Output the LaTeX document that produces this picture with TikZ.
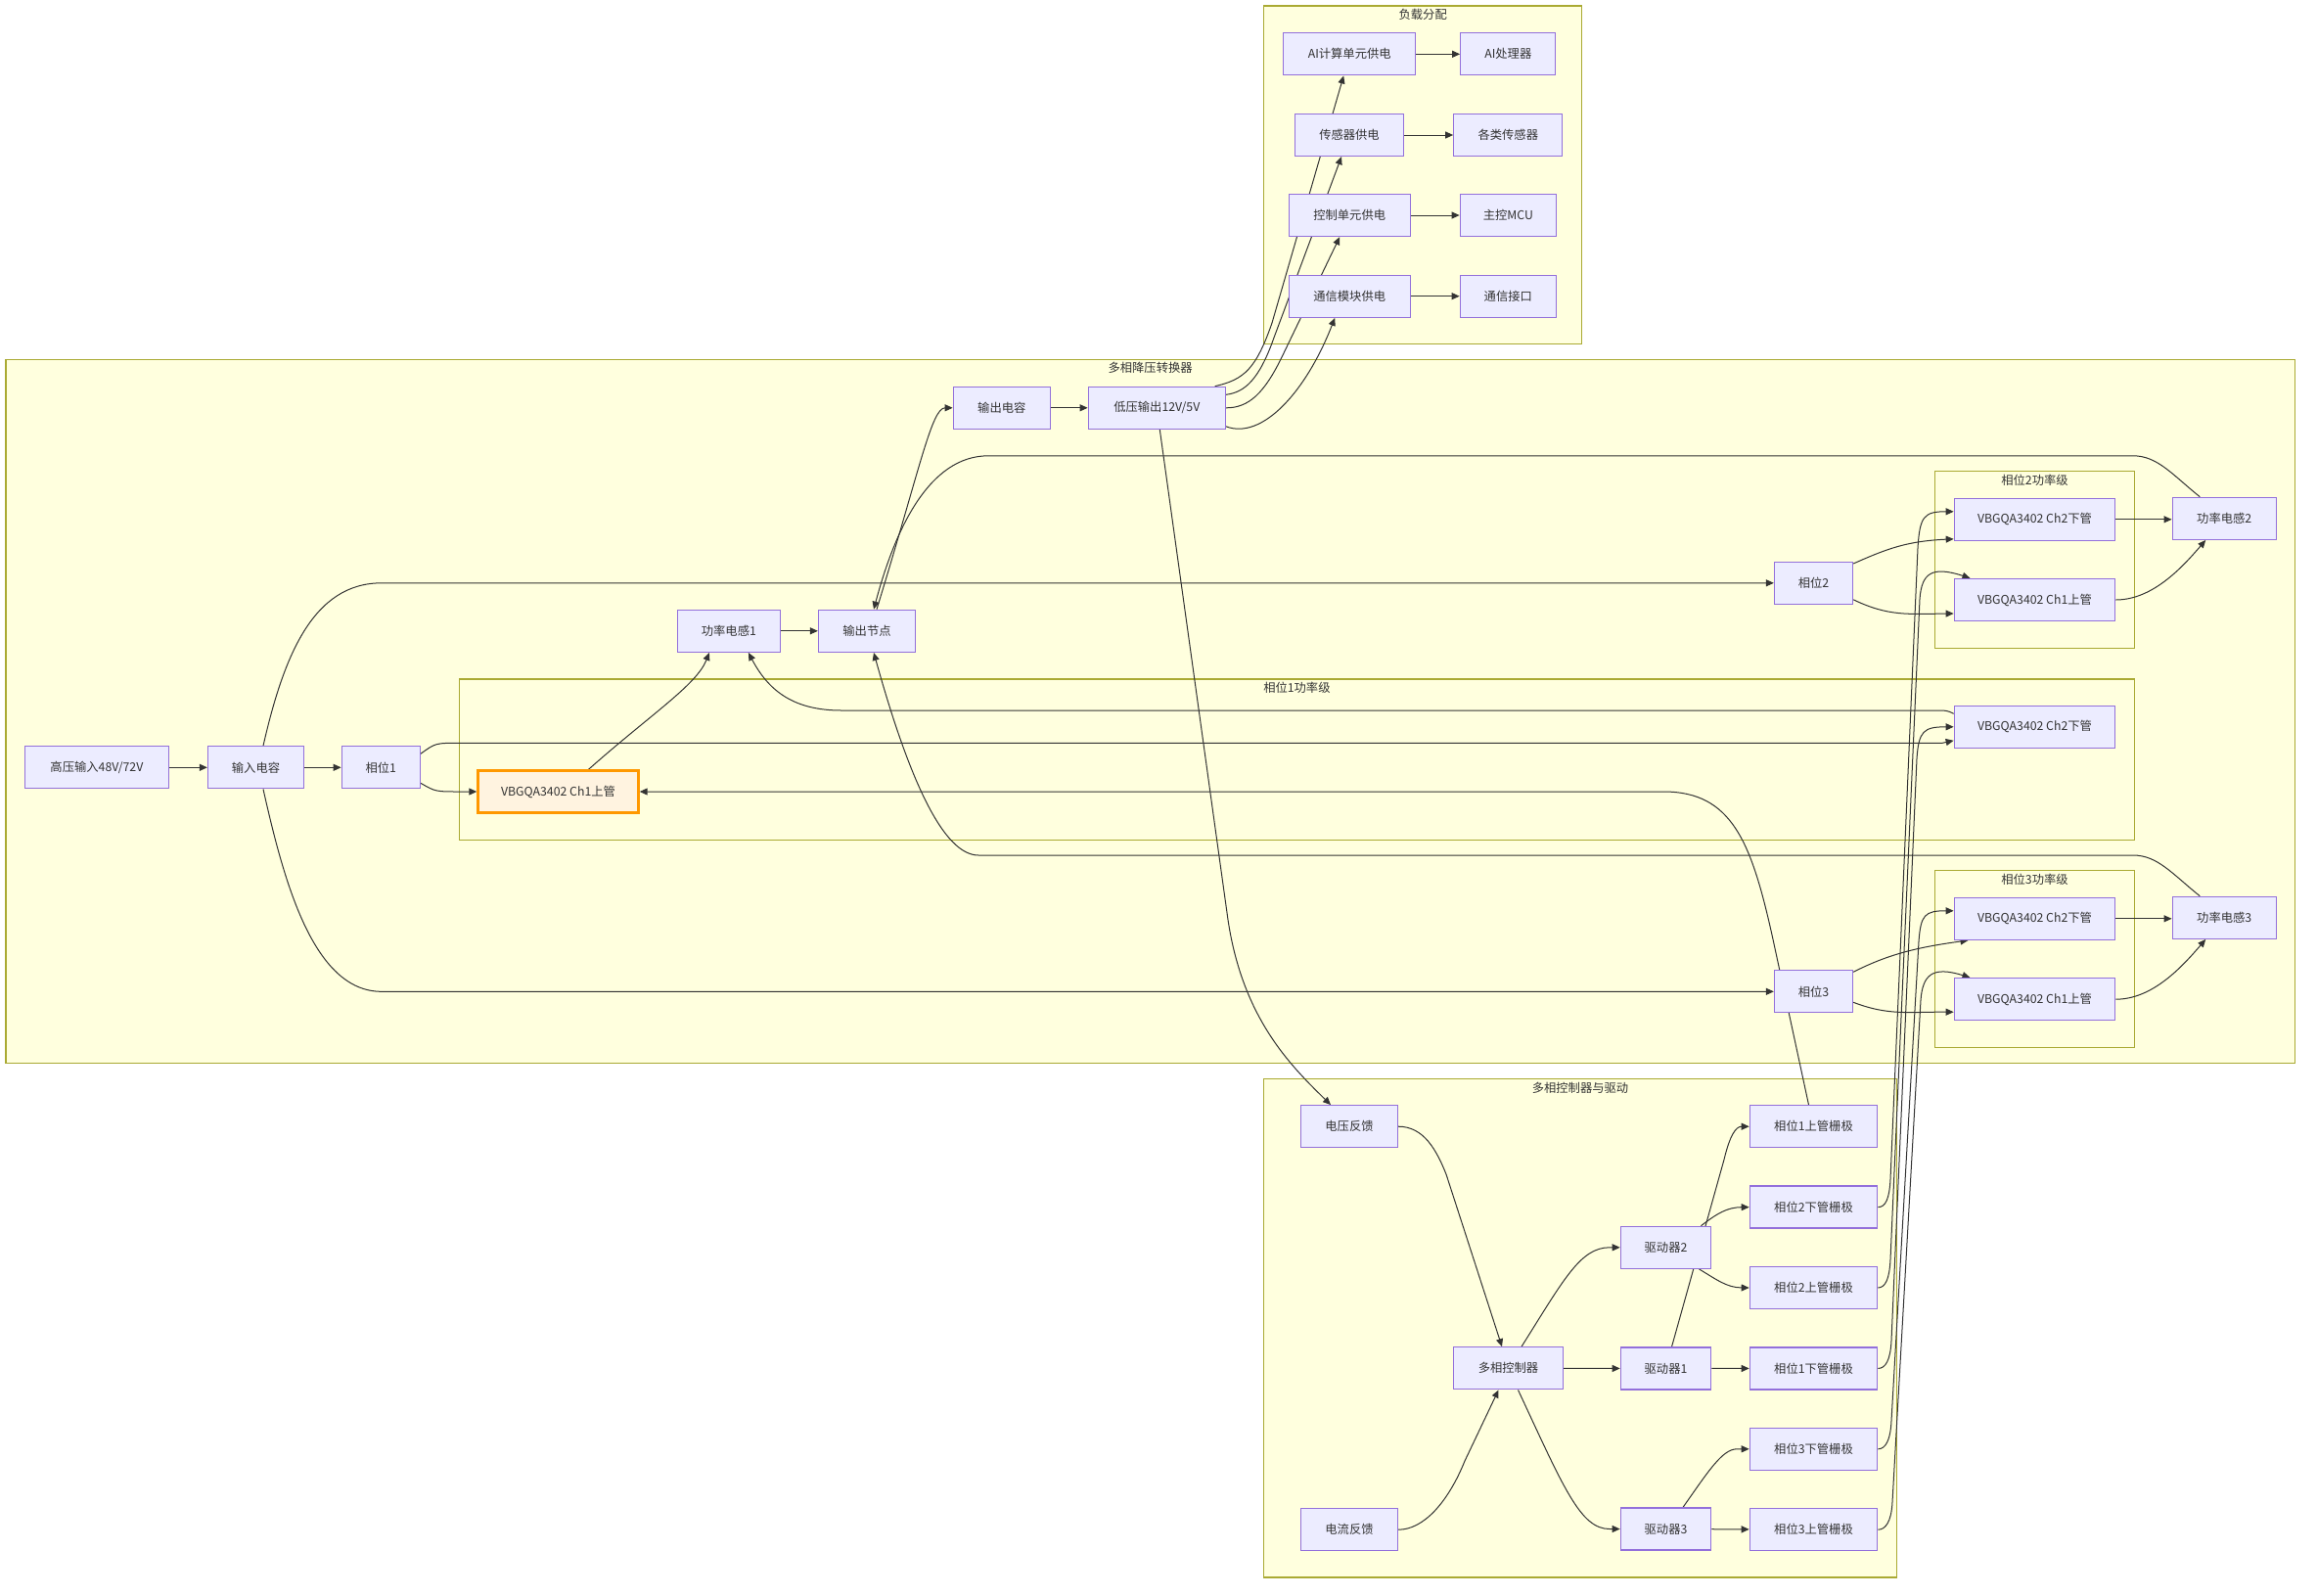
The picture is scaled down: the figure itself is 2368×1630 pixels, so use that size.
\documentclass[tikz,border=0pt]{standalone}
\usepackage{fontspec}
\setmainfont{Noto Sans CJK SC}
\usetikzlibrary{arrows.meta,positioning}
\definecolor{boxfill}{HTML}{ECECFF}
\definecolor{boxline}{HTML}{9370DB}
\definecolor{grpfill}{HTML}{FFFFDE}
\definecolor{grpline}{HTML}{AAAA33}
\definecolor{hotfill}{HTML}{FFF3E0}
\definecolor{hotline}{HTML}{FF9800}
\definecolor{ink}{HTML}{333333}
\newcommand{\boxfont}{\fontsize{12.3pt}{14pt}\selectfont}
\pgfdeclarelayer{back}
\pgfdeclarelayer{wires}
\pgfsetlayers{back,wires,main}

\begin{document}
\begin{tikzpicture}[x=1pt,y=-1pt,node distance=82.4pt,on grid,
  >={Triangle[length=8pt,width=7pt]},
  box/.style={draw=boxline,fill=boxfill,line width=1.3pt,minimum height=43pt,inner sep=0pt,text=ink,font=\boxfont},
  hot/.style={box,draw=hotline,fill=hotfill,line width=2.4pt},
  mos/.style={box,minimum width=164.4pt},
  gatebox/.style={box,minimum width=130.3pt},
  group/.style={draw=grpline,fill=grpfill,line width=1.3pt},
  grouptitle/.style={text=ink,font=\boxfont,inner sep=0pt},
  wire/.style={draw=ink,line width=1pt,->}]
\useasboundingbox (0,0) rectangle (2368,1630);

% load distribution
\node[box,minimum width=135pt] (aipwr) at (1379.2,55.3) {AI计算单元供电};
\node[box,minimum width=97pt] (aiproc) [right=162.1pt of aipwr] {AI处理器};
\node[box,minimum width=111pt] (senpwr) at (1379,138) {传感器供电};
\node[box,minimum width=111pt] (sensors) [right=162.3pt of senpwr] {各类传感器};
\node[box,minimum width=124pt] (ctlpwr) at (1379.2,220) {控制单元供电};
\node[box,minimum width=98pt] (mcu) [right=162.1pt of ctlpwr] {主控MCU};
\node[box,minimum width=124pt] (compwr) at (1379.2,302.7) {通信模块供电};
\node[box,minimum width=98pt] (comif) [right=162.1pt of compwr] {通信接口};

% buck converter
\node[box,minimum width=147pt] (hv) at (98.9,784.3) {高压输入48V/72V};
\node[box,minimum width=98pt] (cin) at (261.5,784.3) {输入电容};
\node[box,minimum width=80pt] (ph1) at (389.3,784.3) {相位1};
\node[hot,minimum width=164pt] (p1hi) at (570.5,809) {VBGQA3402 Ch1上管};
\node[box,minimum width=105pt] (ind1) at (744.9,644.8) {功率电感1};
\node[box,minimum width=99pt] (onode) at (886,644.8) {输出节点};
\node[box,minimum width=99pt] (cout) at (1023.8,416.8) {输出电容};
\node[box,minimum width=140pt] (lvout) at (1182.3,416.8) {低压输出12V/5V};
\node[box,minimum width=80pt] (ph2) at (1853.5,595.8) {相位2};
\node[box,minimum width=80pt] (ph3) at (1853.5,1013.3) {相位3};
\node[mos] (p2lo) at (2079.5,530.8) {VBGQA3402 Ch2下管};
\node[mos] (p2hi) at (2079.5,613) {VBGQA3402 Ch1上管};
\node[mos] (p1lo) at (2079.5,742.8) {VBGQA3402 Ch2下管};
\node[mos] (p3lo) at (2079.5,938.8) {VBGQA3402 Ch2下管};
\node[mos] (p3hi) at (2079.5,1021.2) {VBGQA3402 Ch1上管};
\node[box,minimum width=106pt] (ind2) at (2273.2,529.8) {功率电感2};
\node[box,minimum width=106pt] (ind3) at (2273.2,937.8) {功率电感3};

% controller and drivers
\node[box,minimum width=99pt] (vfb) at (1379,1151.2) {电压反馈};
\node[box,minimum width=99pt] (ifb) at (1379,1563.2) {电流反馈};
\node[box,minimum width=111.7pt] (ctrl) at (1541.5,1398.3) {多相控制器};
\node[box,minimum width=92.3pt] (drv2) at (1702.5,1274.8) {驱动器2};
\node[box,minimum width=92.3pt] (drv1) at (1702.5,1398.5) {驱动器1};
\node[box,minimum width=92.3pt] (drv3) at (1702.5,1562.5) {驱动器3};
\node[gatebox] (g1hi) at (1853.5,1151.2) {相位1上管栅极};
\node[gatebox] (g2lo) [below=of g1hi] {相位2下管栅极};
\node[gatebox] (g2hi) [below=of g2lo] {相位2上管栅极};
\node[gatebox] (g1lo) [below=of g2hi] {相位1下管栅极};
\node[gatebox] (g3lo) [below=of g1lo] {相位3下管栅极};
\node[gatebox] (g3hi) [below=of g3lo] {相位3上管栅极};

\begin{pgfonlayer}{wires}
\draw[wire] (hv) -- (cin);
\draw[wire] (cin) -- (ph1);
\draw[wire] ([xshift=7.5pt]cin.north) .. controls (290,670) and (320,595.8) .. (390,595.8) -- (ph2.west);
\draw[wire] ([xshift=7.5pt]cin.south) .. controls (290,900) and (320,1013.3) .. (390,1013.3) -- (ph3.west);
\draw[wire] ([yshift=-16pt]ph1.east) .. controls (445,809) .. (470,809) -- (p1hi.west);
\draw[wire] ([yshift=14pt]ph1.east) .. controls (445,759.3) .. (470,759.3) -- (1985,759.3) -- ([yshift=-14pt]p1lo.west);
\draw[wire] ([yshift=19.8pt]ph2.east) .. controls (1930,560) and (1950,553) .. ([yshift=-20pt]p2lo.west);
\draw[wire] ([yshift=-17pt]ph2.east) .. controls (1930,630) and (1950,627.5) .. ([yshift=-14pt]p2hi.west);
\draw[wire] ([yshift=20pt]ph3.east) .. controls (1930,975) and (1960,968) .. ([xshift=-68pt]p3lo.south);
\draw[wire] ([yshift=-11pt]ph3.east) .. controls (1930,1038) and (1950,1034) .. ([yshift=-13pt]p3hi.west);
\draw[wire] ([xshift=31pt]p1hi.north) .. controls (665,730) and (712,700) .. ([xshift=-20pt]ind1.south);
\draw[wire] ([yshift=13.5pt]p1lo.west) .. controls (1990,726) .. (1975,726) -- (860,726) .. controls (810,726) and (785,705) .. ([xshift=20pt]ind1.south);
\draw[wire] (p2lo.east) -- (p2lo.east -| ind2.west);
\draw[wire] (p2hi.east) .. controls (2200,613) and (2230,580) .. ([xshift=-19pt]ind2.south);
\draw[wire] (p3lo.east) -- (p3lo.east -| ind3.west);
\draw[wire] (p3hi.east) .. controls (2200,1021.2) and (2230,988) .. ([xshift=-19pt]ind3.south);
\draw[wire] (ind1) -- (onode);
\draw[wire] ([xshift=-25pt]ind2.north) .. controls (2220,485) and (2205,465.8) .. (2180,465.8) -- (1010,465.8) .. controls (950,465.8) and (915,540) .. ([xshift=7pt]onode.north);
\draw[wire] ([xshift=-25pt]ind3.north) .. controls (2220,893) and (2205,874) .. (2180,874) -- (1000,874) .. controls (965,874) and (930,800) .. ([xshift=7pt]onode.south);
\draw[wire] ([xshift=10pt]onode.north) .. controls (940,480) and (952,416.8) .. (cout.west);
\draw[wire] (cout) -- (lvout);
% to the loads
\draw[wire] ([xshift=59.4pt]lvout.north) .. controls (1272,388) and (1284,376) .. (1300,330) -- ([xshift=-6pt]aipwr.south);
\draw[wire] ([yshift=13.5pt]lvout.east) .. controls (1272,401) and (1287,388) .. (1302,345) -- ([xshift=-8pt]senpwr.south);
\draw[wire] (lvout.east) .. controls (1276,417) and (1292,402) .. (1310,365) -- ([xshift=-10pt]ctlpwr.south);
\draw[wire] ([yshift=-19pt]lvout.east) .. controls (1290,450) and (1335,400) .. ([xshift=-15pt]compwr.south);
\draw[wire] (aipwr) -- (aiproc);
\draw[wire] (senpwr) -- (sensors);
\draw[wire] (ctlpwr) -- (mcu);
\draw[wire] (compwr) -- (comif);
% feedback and control
\draw[wire] ([xshift=3pt]lvout.south) -- (1255,940) .. controls (1270,1040) and (1318,1088) .. ([xshift=-19pt]vfb.north);
\draw[wire] (vfb.east) .. controls (1455,1151.2) and (1468,1175) .. (1478,1200) -- ([xshift=-6.5pt]ctrl.north);
\draw[wire] (ifb.east) .. controls (1455,1563.2) and (1480,1535) .. (1497,1493) -- ([xshift=-10pt]ctrl.south);
\draw[wire] (ctrl) -- (drv1);
\draw[wire] ([xshift=13.5pt]ctrl.north) .. controls (1598,1308) and (1615,1274.8) .. (1645,1274.8) -- (drv2.west);
\draw[wire] ([xshift=10pt]ctrl.south) .. controls (1598,1520) and (1615,1562.5) .. (1645,1562.5) -- (drv3.west);
\draw[wire] (drv1) -- (g1lo);
\draw[wire] ([xshift=6pt]drv1.north) -- (1762,1185) .. controls (1768,1160) and (1774,1151.2) .. (g1hi.west);
\draw[wire] ([xshift=36pt]drv2.north) .. controls (1755,1240) and (1765,1233.8) .. (g2lo.west);
\draw[wire] ([xshift=34pt]drv2.south) .. controls (1755,1308) and (1765,1315.8) .. (g2hi.west);
\draw[wire] ([xshift=17.5pt]drv3.north) .. controls (1745,1505) and (1760,1480.8) .. (1775,1480.8) -- (g3lo.west);
\draw[wire] (drv3) -- (g3hi);
% gate signals
\draw[wire] ([xshift=-5pt]g1hi.north) -- (1812,960) .. controls (1790,860) and (1770,809) .. (1700,809) -- (p1hi.east);
\draw[wire] (g2lo.east) .. controls (1927,1233.8) and (1931,1225) .. (1932,1205) -- (1960,560) .. controls (1962,528) and (1966,522.7) .. ([yshift=8pt]p2lo.west);
\draw[wire] (g2hi.east) .. controls (1927,1315.8) and (1931,1307) .. (1932,1287) -- (1962,612) .. controls (1964,586) and (1974,578) .. ([xshift=-66pt]p2hi.north);
\draw[wire] (g1lo.east) .. controls (1927,1398.5) and (1932,1390) .. (1933,1370) -- (1959,775) .. controls (1961,747) and (1966,742.8) .. (p1lo.west);
\draw[wire] (g3lo.east) .. controls (1927,1480.8) and (1932,1472) .. (1933,1452) -- (1961,962) .. controls (1963,935) and (1967,930.7) .. ([yshift=8pt]p3lo.west);
\draw[wire] (g3hi.east) .. controls (1927,1563.2) and (1933,1555) .. (1934,1535) -- (1963,1022) .. controls (1965,996) and (1975,987) .. ([xshift=-66pt]p3hi.north);
\end{pgfonlayer}

\begin{pgfonlayer}{back}
\fill[white] (0,0) rectangle (2368,1630);
\draw[group] (1291.7,6) rectangle (1616.7,351.7);
\node[grouptitle] at (1454.2,15) {负载分配};
\draw[group] (6,367.3) rectangle (2345.3,1086.3);
\node[grouptitle] at (1175.6,376) {多相降压转换器};
\draw[group] (469.4,694) rectangle (2181.3,858.3);
\node[grouptitle] at (1325.4,703) {相位1功率级};
\draw[group] (1977.7,481.7) rectangle (2181.3,662.3);
\node[grouptitle] at (2079.5,490.7) {相位2功率级};
\draw[group] (1977.7,889.3) rectangle (2181.3,1070.3);
\node[grouptitle] at (2079.5,898.3) {相位3功率级};
\draw[group] (1291.7,1102.5) rectangle (1938.3,1612);
\node[grouptitle] at (1615,1111.7) {多相控制器与驱动};
\end{pgfonlayer}
\end{tikzpicture}
\end{document}
